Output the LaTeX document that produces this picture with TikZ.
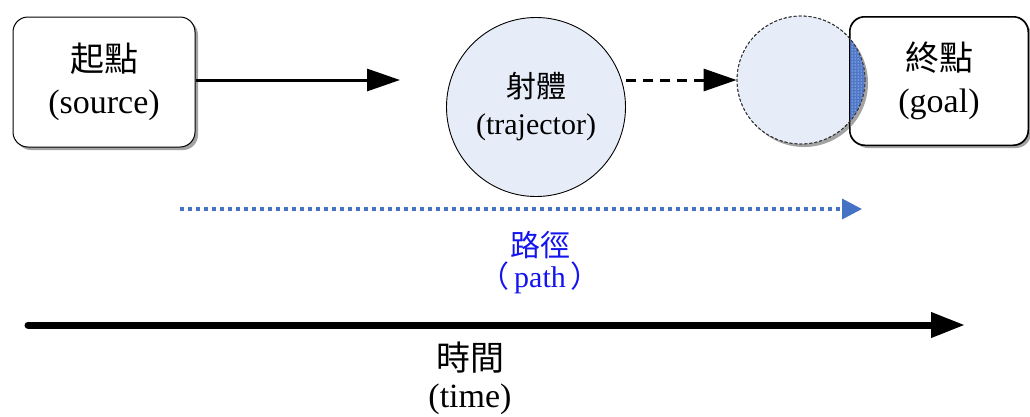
\documentclass[tikz,border=0pt]{standalone}
\usepackage{fontspec}
\setmainfont{Liberation Serif}
\newfontfamily\cjk{Noto Sans CJK TC}
\usetikzlibrary{arrows.meta,shadows,patterns}
\definecolor{cfill}{RGB}{231,237,248}
\definecolor{pathblue}{RGB}{68,114,196}
\definecolor{txtblue}{RGB}{20,20,240}
\definecolor{hatch}{RGB}{80,120,200}
\tikzset{
  boxst/.style={draw=black, line width=1pt, fill=white, rounded corners=15pt,
    drop shadow={shadow xshift=3pt, shadow yshift=-3pt, fill=black!45, opacity=0.8},
    align=center, inner sep=0pt},
  bigtxt/.style={font=\fontsize{34}{42}\selectfont},
  midtxt/.style={font=\fontsize{30}{37}\selectfont},
  arrowtip/.style={-{Triangle[length=33pt,width=22pt]}},
}
\begin{document}
\begin{tikzpicture}[x=1pt,y=-1pt]
\useasboundingbox (0,0) rectangle (1030,416);
% source box
\node[boxst, bigtxt, minimum width=182pt, minimum height=130pt] (src) at (104,82) {{\cjk 起點}\\(source)};
% goal box
\node[boxst, bigtxt, minimum width=178pt, minimum height=128pt] (goal) at (939,81) {{\cjk 終點}\\(goal)};
% ghost circle
\node[circle, draw=black!80, dash pattern=on 3pt off 2pt, line width=0.8pt, fill=cfill, minimum size=128pt,
  drop shadow={shadow xshift=3pt, shadow yshift=-3pt, fill=black!45, opacity=0.8}] (ghost) at (801,80) {};
\begin{scope}
  \clip (ghost.center) circle[radius=64pt];
  \fill[hatch, rounded corners=15pt] (goal.south west) rectangle (goal.north east);
  \fill[pattern=dots, pattern color=white, rounded corners=15pt] (goal.south west) rectangle (goal.north east);
\end{scope}
\draw[line width=1pt, rounded corners=15pt] (goal.south west) rectangle (goal.north east);
\draw[black!80, dash pattern=on 3pt off 2pt, line width=0.8pt] (ghost.center) circle[radius=64pt];
% trajector
\node[circle, draw=black, line width=0.9pt, fill=cfill, minimum size=179pt, align=center, midtxt] (traj) at (536,107) {{\cjk 射體}\\(trajector)};
% arrows
\coordinate (a1) at (400,80);
\draw[line width=3pt, arrowtip] (src.east |- a1) -- (a1);
\coordinate (d0) at (626,80);
\draw[line width=3pt, dash pattern=on 10pt off 7pt, arrowtip] (d0) -- (ghost.west);
\coordinate (p0) at (180,209);
\coordinate (p1) at (862,209);
\draw[pathblue, line width=3.5pt, dash pattern=on 3.5pt off 4.5pt, -{Triangle[length=20pt,width=20pt]}] (p0) -- (p1);
\node[txtblue, midtxt] (pl1) at (540,245) {\cjk 路徑};
\node[txtblue, midtxt] (pl2) at (540,278) {{\cjk （}\,path\,{\cjk ）}};
\coordinate (t0) at (28,325);
\coordinate (t1) at (965,325);
\draw[line width=7pt, line cap=round, -{Triangle[length=34pt,width=24pt]}] (t0) -- (t1);
\node[bigtxt] (tl1) at (470,358) {\cjk 時間};
\node[bigtxt] (tl2) at (470,399) {(time)};
\end{tikzpicture}
\end{document}
